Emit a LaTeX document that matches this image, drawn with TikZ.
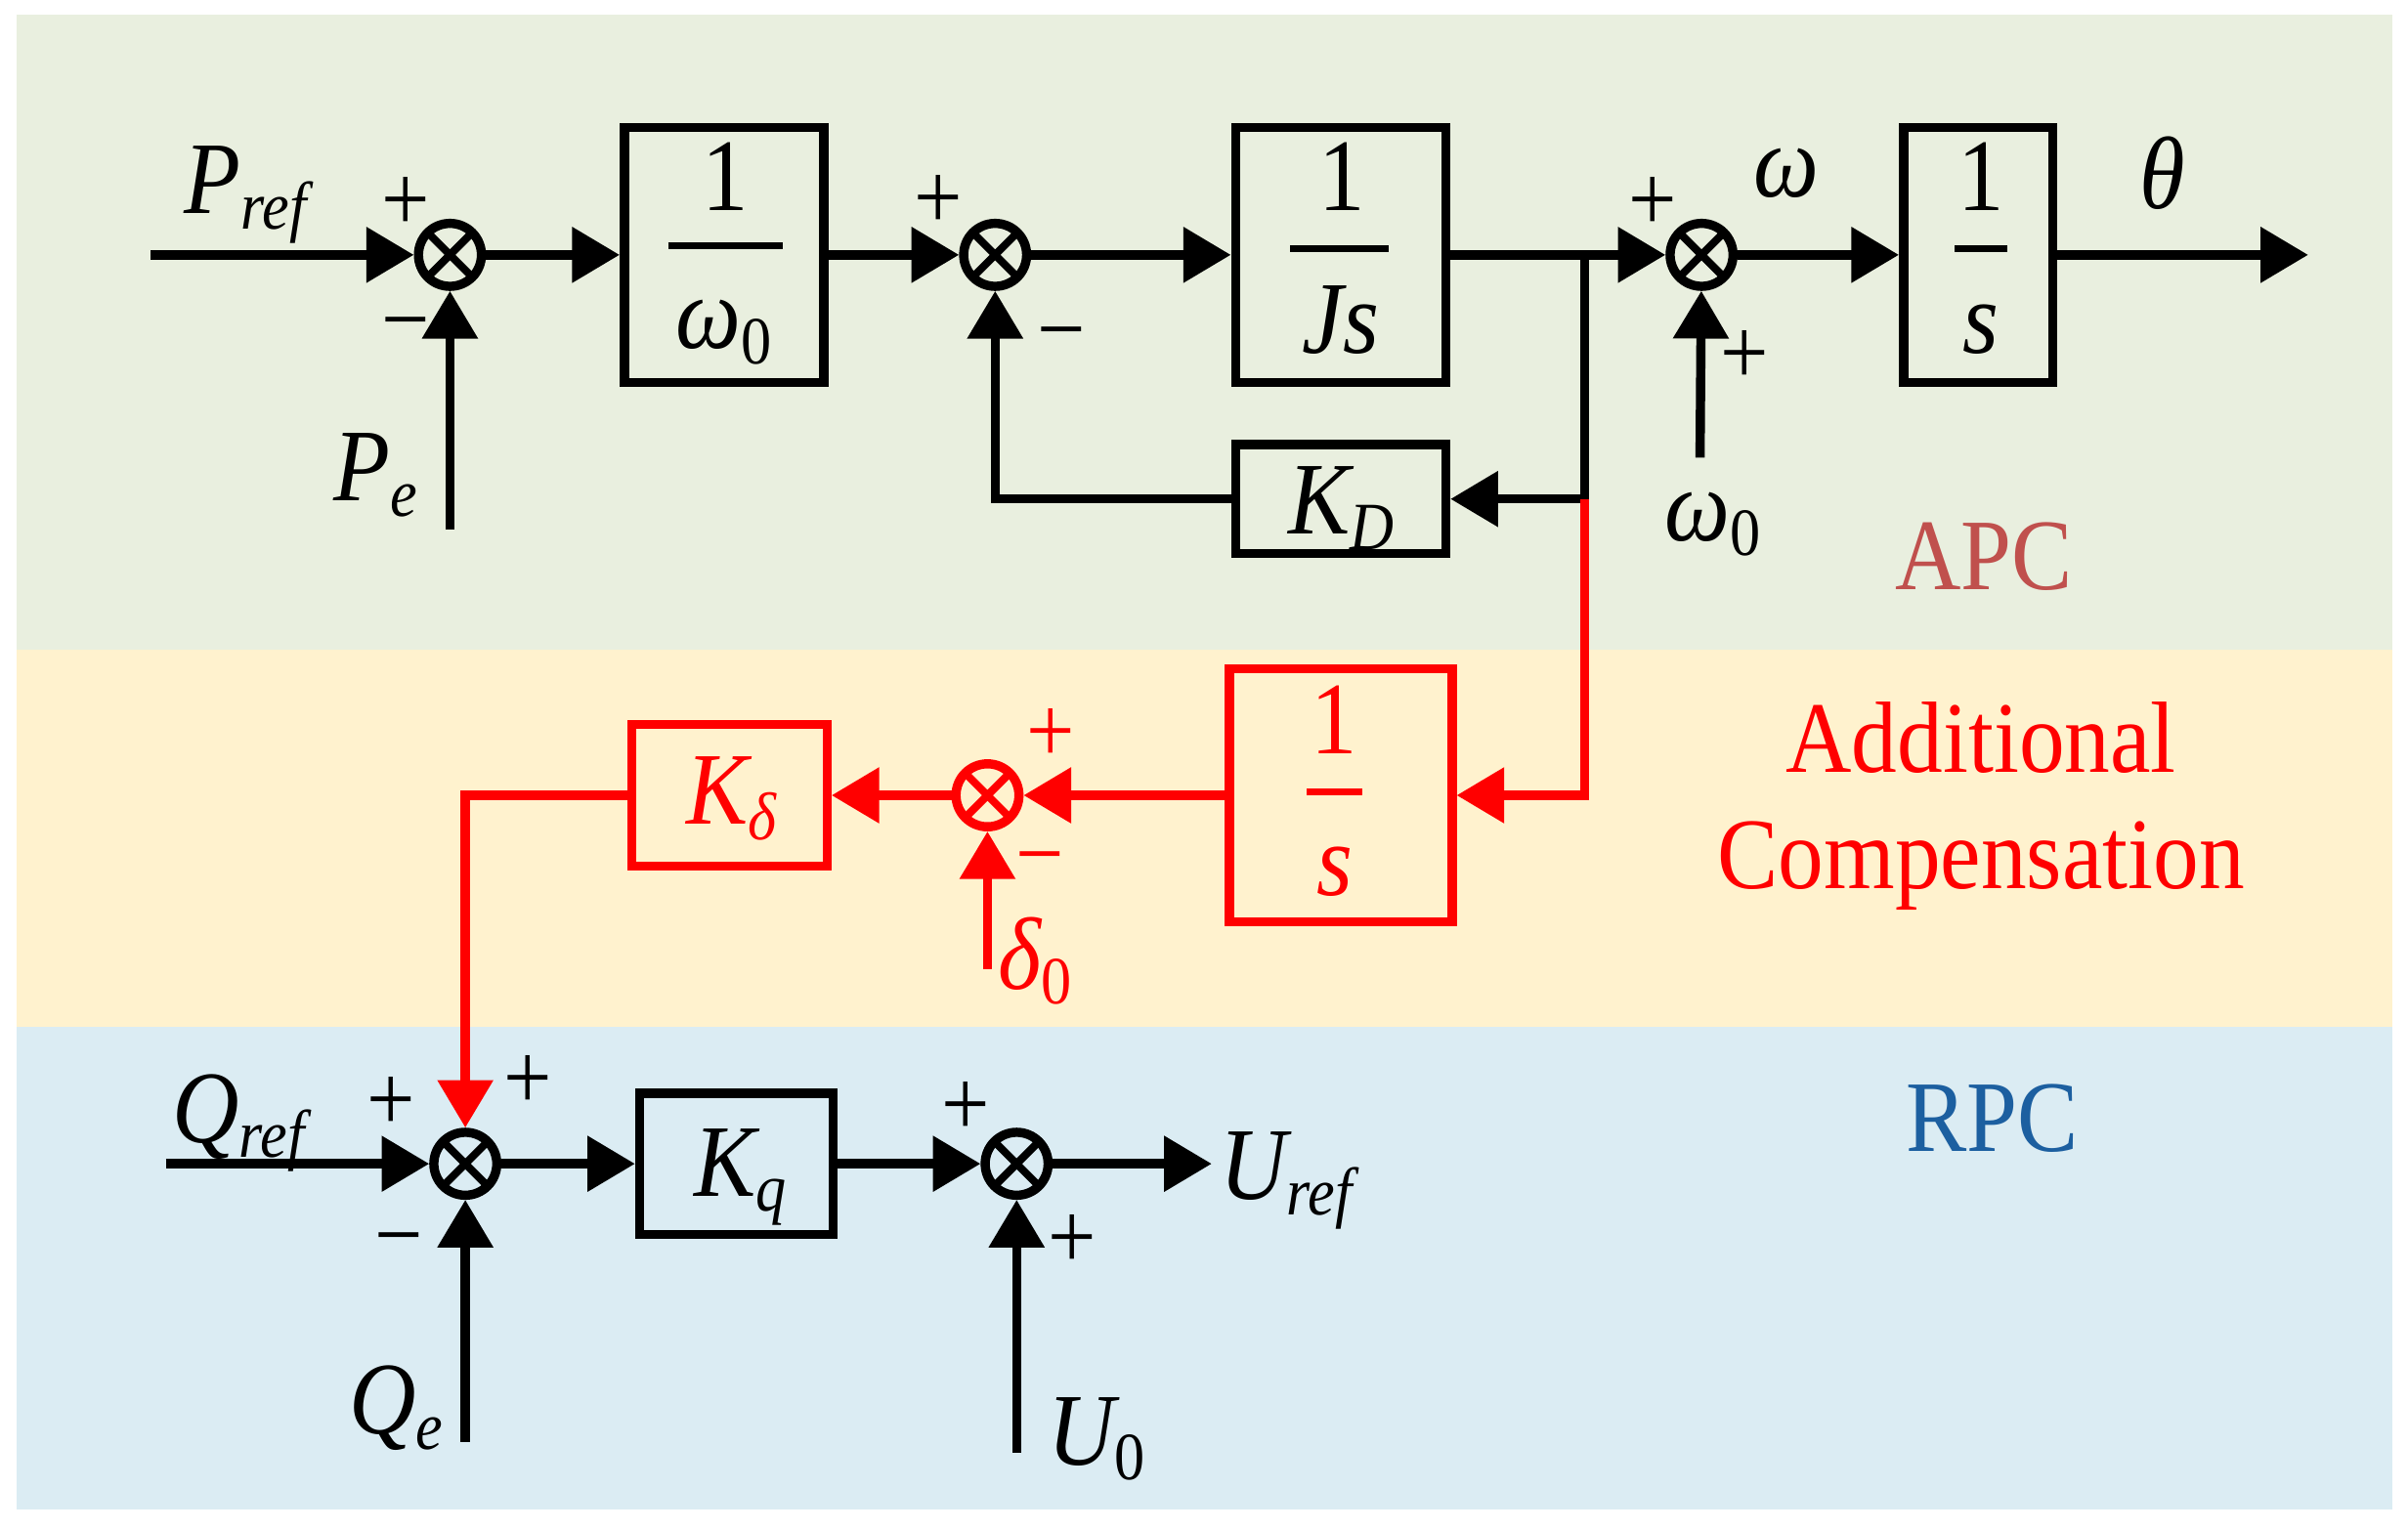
\documentclass[tikz,border=0pt]{standalone}
\usepackage{fontspec}
\setmainfont{Liberation Serif}[FakeStretch=0.9]
\usepackage{tikz}
\usetikzlibrary{arrows.meta}

\definecolor{apcbg}{RGB}{233,239,223}
\definecolor{addbg}{RGB}{255,242,206}
\definecolor{rpcbg}{RGB}{219,236,243}
\definecolor{apctxt}{RGB}{192,80,77}
\definecolor{rpctxt}{RGB}{28,95,160}

\newcommand{\lsub}[1]{\raisebox{-10pt}{\fontsize{44}{44}\selectfont #1}}

\tikzset{
  blk/.style={draw=#1, line width=6pt, inner sep=0pt},
  blk/.default=black,
  sumnode/.style={circle, draw=#1, line width=6pt, minimum size=41pt, inner sep=0pt,
    path picture={\draw[#1, line width=5pt] (path picture bounding box.north west) -- (path picture bounding box.south east)
      (path picture bounding box.south west) -- (path picture bounding box.north east);}},
  sumnode/.default=black,
  sig/.style={line width=6pt},
  rsig/.style={sig, red},
  bar/.style={line width=4.5pt},
  lbl/.style={font=\fontsize{67}{70}\selectfont\itshape, inner sep=0pt},
  sgn/.style={font=\fontsize{62}{62}\selectfont, inner sep=0pt},
  ttl/.style={font=\fontsize{66}{70}\selectfont, inner sep=0pt, anchor=base west},
}

\begin{document}
\begin{tikzpicture}[x=1pt,y=1pt,yscale=-1,>={Triangle[length=31pt,width=35pt]}]
\useasboundingbox (0,0) rectangle (1568,996);

% Background
\fill[apcbg] (11,9.5) rectangle (1558,423);
\fill[addbg] (11,423) rectangle (1558,669);
\fill[rpcbg] (11,669) rectangle (1558,983);

% Free ends
\coordinate (prefin) at (98,166);
\coordinate (pe) at (293,345);
\coordinate (br) at (1032,166);
\coordinate (brd) at (1032,325);
\coordinate (w0in) at (1107,298);
\coordinate (thout) at (1503,166);
\coordinate (dlt) at (643,631);
\coordinate (qrefin) at (108,758);
\coordinate (qe) at (303,939);
\coordinate (u0) at (662,946);
\coordinate (urefout) at (789,758);

% Sum Node
\node[sumnode] (s1) at (293,166) {};
% Sum Node
\node[sumnode] (s2) at (648,166) {};
% Sum Node
\node[sumnode] (s3) at (1108,166) {};
% Sum Node
\node[sumnode=red] (rs) at (643,518) {};
% Sum Node
\node[sumnode] (s4) at (303,758) {};
% Sum Node
\node[sumnode] (s5) at (662,758) {};

% Block Node
\node[blk, minimum width=130pt, minimum height=166pt] (w0box) at (471.5,166) {};
\node[lbl, anchor=base] (w0num) at (472,137) {\upshape 1};
\draw[bar] (435,160) -- (510,160);
\node[lbl, anchor=base west] (w0den) at (440,227) {ω\lsub{\upshape 0}};
% Block Node
\node[blk, minimum width=137pt, minimum height=166pt] (jsbox) at (873,166) {};
\node[lbl, anchor=base] (jsnum) at (874,137) {\upshape 1};
\draw[bar] (840,162) -- (904,162);
\node[lbl, anchor=base] (jsden) at (873,230) {Js};
% Block Node
\node[blk, minimum width=97pt, minimum height=166pt] (sbox) at (1288,166) {};
\node[lbl, anchor=base] (snum) at (1290,137) {\upshape 1};
\draw[bar] (1273,162) -- (1307,162);
\node[lbl, anchor=base] (sden) at (1290,230) {s};
% Block Node
\node[blk, minimum width=137pt, minimum height=71pt] (kd) at (873,325) {};
\node[lbl, anchor=base west] (kdtxt) at (839,348) {K\lsub{D}};
% Block Node
\node[blk=red, minimum width=145pt, minimum height=165pt] (rbox) at (873,518) {};
\node[lbl, red, anchor=base] (rnum) at (869,491) {\upshape 1};
\draw[bar, red] (851,516) -- (887,516);
\node[lbl, red, anchor=base] (rden) at (869,583) {s};
% Block Node
\node[blk=red, minimum width=127pt, minimum height=92pt] (kdel) at (475,518) {};
\node[lbl, red, anchor=base west] (kdeltxt) at (447,537) {K\lsub{δ}};
% Block Node
\node[blk, minimum width=126pt, minimum height=92pt] (kq) at (479.5,758) {};
\node[lbl, anchor=base west] (kqtxt) at (452,779) {K\lsub{q}};

% Text Node
\node[lbl, anchor=base west] (preftxt) at (120,139) {P\lsub{ref}};
% Text Node
\node[lbl, anchor=base west] (petxt) at (217,326) {P\lsub{e}};
% Text Node
\node[lbl, anchor=base] (wtxt) at (1163,128) {ω};
% Text Node
\node[lbl, anchor=base] (thtxt) at (1408,136) {θ};
% Text Node
\node[lbl, anchor=base west] (w0txt) at (1084,352) {ω\lsub{\upshape 0}};
% Text Node
\node[lbl, red, anchor=base west] (d0txt) at (650,644) {δ\lsub{\upshape 0}};
% Text Node
\node[lbl, anchor=base west] (qreftxt) at (112,744) {Q\lsub{ref}};
% Text Node
\node[lbl, anchor=base west] (qetxt) at (227,934) {Q\lsub{e}};
% Text Node
\node[lbl, anchor=base west] (ureftxt) at (794,781) {U\lsub{ref}};
% Text Node
\node[lbl, anchor=base west] (u0txt) at (682,954) {U\lsub{\upshape 0}};

% Sign Node
\node[sgn] (s1p) at (264,133) {+};
\node[sgn] (s1m) at (264,218) {−};
\node[sgn] (s2p) at (611,132) {+};
\node[sgn] (s2m) at (691,224) {−};
\node[sgn] (s3p) at (1076,133) {+};
\node[sgn] (s3q) at (1136,233) {+};
\node[sgn, red] (rsp) at (684,479) {+};
\node[sgn, red] (rsm) at (677,566) {−};
\node[sgn] (s4p) at (255,719) {+};
\node[sgn] (s4q) at (344,705) {+};
\node[sgn] (s4m) at (260,814) {−};
\node[sgn] (s5p) at (629,722) {+};
\node[sgn] (s5q) at (698,809) {+};

% Title Node
\node[ttl, text=apctxt] (apc) at (1234,384) {APC};
% Title Node
\node[ttl, red, anchor=base] (addl) at (1290,503) {Additional};
% Title Node
\node[ttl, red, anchor=base] (comp) at (1290,579) {Compensation};
% Title Node
\node[ttl, text=rpctxt] (rpc) at (1241,750) {RPC};

% Connection
\draw[sig,->] (prefin) -- (s1);
% Connection
\draw[sig,->] (pe) -- (s1);
% Connection
\draw[sig,->] (s1) -- (w0box);
% Connection
\draw[sig,->] (w0box) -- (s2);
% Connection
\draw[sig,->] (s2) -- (jsbox);
% Connection
\draw[sig,->] (jsbox) -- (s3);
% Connection
\draw[sig] (br) -- (brd);
% Connection
\draw[sig,->] (brd) -- (kd);
% Connection
\draw[sig,->] (kd) -| (s2);
% Connection
\draw[sig,->] (w0in) -- (s3);
% Connection
\draw[sig,->] (s3) -- (sbox);
% Connection
\draw[sig,->] (sbox) -- (thout);
% Connection
\draw[rsig,->] (brd) |- (rbox);
% Connection
\draw[rsig,->] (rbox) -- (rs);
% Connection
\draw[rsig,->] (dlt) -- (rs);
% Connection
\draw[rsig,->] (rs) -- (kdel);
% Connection
\draw[rsig,->] (kdel) -| (s4);
% Connection
\draw[sig,->] (qrefin) -- (s4);
% Connection
\draw[sig,->] (qe) -- (s4);
% Connection
\draw[sig,->] (s4) -- (kq);
% Connection
\draw[sig,->] (kq) -- (s5);
% Connection
\draw[sig,->] (s5) -- (urefout);
% Connection
\draw[sig,->] (u0) -- (s5);

\end{tikzpicture}
\end{document}
